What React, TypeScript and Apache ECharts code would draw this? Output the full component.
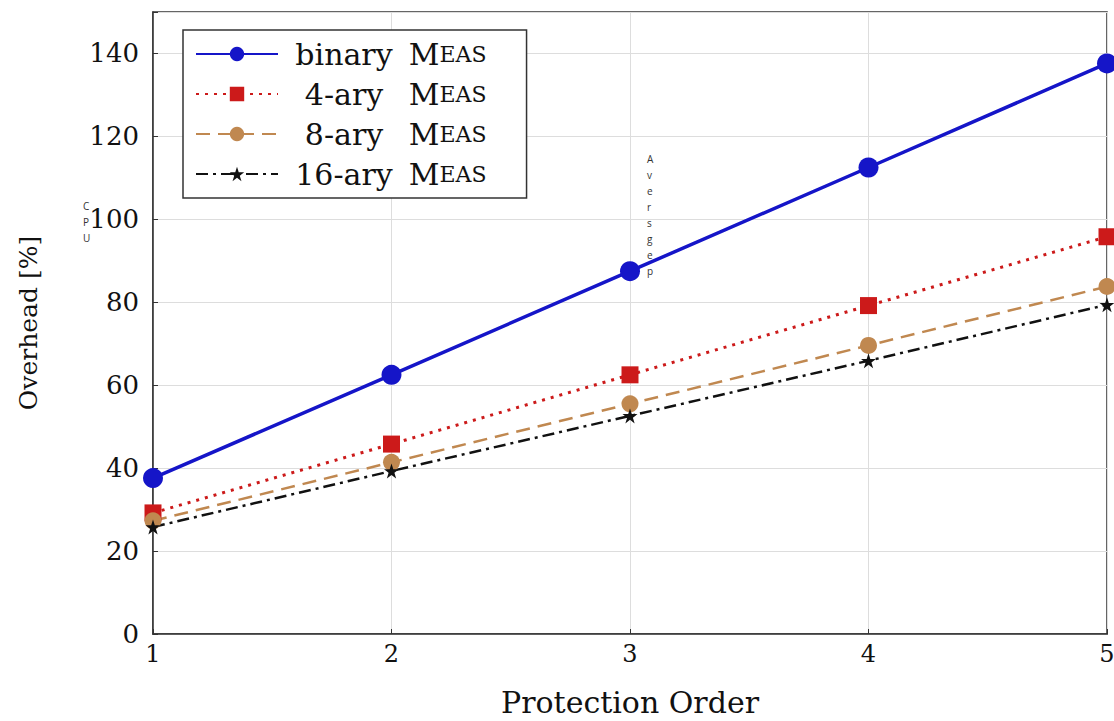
import React, { useEffect, useRef } from "react";
import * as echarts from "echarts";

const orders = [1, 2, 3, 4, 5];
const binaryMeas = [37.6, 62.5, 87.5, 112.5, 137.6];
const ary4Meas = [29.2, 45.8, 62.5, 79.2, 95.8];
const ary8Meas = [27.3, 41.4, 55.5, 69.6, 83.8];
const ary16Meas = [25.8, 39.3, 52.6, 65.9, 79.4];
const seriesNames = ["binary", "4-ary", "8-ary", "16-ary"];
const yTicks = [0, 20, 40, 60, 80, 100, 120, 140];
const strayA = ["C", "P", "U"];
const strayB = ["A", "v", "e", "r", "s", "g", "e", "p"];

const STAR = "path://M50,0 L61.8,35.4 L99,35.4 L69,57.3 L80.3,92.7 L50,70.8 L19.7,92.7 L31,57.3 L1,35.4 L38.2,35.4 Z";
const SERIF = "'DejaVu Serif', 'Liberation Serif', serif";

function pairs(vals: number[]) {
  return orders.map((o, i) => [o, vals[i]]);
}

export default function App() {
  const ref = useRef<HTMLDivElement>(null);
  useEffect(() => {
    if (!ref.current) return;
    const chart = echarts.init(ref.current, undefined, { renderer: "svg" });
    const strayTexts: any[] = [];
    strayA.forEach((c, i) =>
      strayTexts.push({ type: "text", left: 83, top: 201 + i * 16, style: { text: c, fill: "#333", fontSize: 10, fontFamily: "'Open Sans', sans-serif" }, z: 100 })
    );
    strayB.forEach((c, i) =>
      strayTexts.push({ type: "text", left: 647, top: 154 + i * 16, style: { text: c, fill: "#333", fontSize: 10, fontFamily: "'Open Sans', sans-serif" }, z: 100 })
    );
    const names = seriesNames.map((n) => n + " MEAS");
    chart.setOption({
      animation: false,
      backgroundColor: "#fff",
      grid: {
        left: 153, right: 7, top: 12, bottom: 87,
        outerBoundsMode: "none",
        containLabel: false,
        show: true, borderColor: "#333", borderWidth: 1.5,
      },
      legend: {
        orient: "vertical",
        left: 183,
        top: 30,
        itemWidth: 82,
        itemHeight: 18,
        itemGap: 10,
        padding: [9, 40, 9, 12],
        backgroundColor: "#fff",
        borderColor: "#333",
        borderWidth: 1.5,
        borderRadius: 0,
        data: names,
        formatter: (name: string) => {
          const p = name.replace(" MEAS", "");
          return `{p|${p}} {m|M}{s|EAS}`;
        },
        textStyle: {
          color: "#111",
          fontFamily: SERIF,
          rich: {
            p: { fontFamily: SERIF, fontSize: 30, width: 122, align: "right", color: "#111" },
            m: { fontFamily: SERIF, fontSize: 30, color: "#111" },
            s: { fontFamily: SERIF, fontSize: 22, color: "#111" },
          },
        },
      },
      xAxis: {
        type: "value",
        min: 1,
        max: 5,
        interval: 1,
        name: "Protection Order",
        nameLocation: "middle",
        nameGap: 53,
        nameTextStyle: { fontFamily: SERIF, fontSize: 30, color: "#111" },
        axisLine: { lineStyle: { color: "#333", width: 1.5 } },
        axisTick: { inside: true, length: 5, lineStyle: { color: "#333" } },
        axisLabel: { fontFamily: SERIF, fontSize: 24, color: "#111", margin: 8 },
        splitLine: { show: true, lineStyle: { color: "#ddd", width: 1 } },
      },
      yAxis: {
        type: "value",
        min: 0,
        max: 150,
        interval: 20,
        name: "Overhead [%]",
        nameLocation: "middle",
        nameGap: 112,
        nameTextStyle: { fontFamily: SERIF, fontSize: 25, color: "#111" },
        axisLine: { show: true, lineStyle: { color: "#333", width: 1.5 } },
        axisTick: { show: true, inside: true, length: 5, lineStyle: { color: "#333" } },
        axisLabel: {
          fontFamily: SERIF,
          fontSize: 26,
          color: "#111",
          margin: 14,
          formatter: (v: number) => (yTicks.includes(v) ? String(v) : ""),
        },
        splitLine: { show: true, lineStyle: { color: "#ddd", width: 1 } },
      },
      series: [
        {
          name: names[0], type: "line", data: pairs(binaryMeas),
          symbol: "circle", symbolSize: 20,
          lineStyle: { color: "#1515c8", width: 3.5, type: "solid" },
          itemStyle: { color: "#1515c8" },
        },
        {
          name: names[1], type: "line", data: pairs(ary4Meas),
          symbol: "rect", symbolSize: 17,
          lineStyle: { color: "#cc1a1a", width: 3, type: [3, 6] },
          itemStyle: { color: "#cc1a1a" },
        },
        {
          name: names[2], type: "line", data: pairs(ary8Meas),
          symbol: "circle", symbolSize: 17,
          lineStyle: { color: "#c08850", width: 2.5, type: [14, 8] },
          itemStyle: { color: "#c08850" },
        },
        {
          name: names[3], type: "line", data: pairs(ary16Meas),
          symbol: STAR, symbolSize: 15,
          lineStyle: { color: "#111", width: 2.5, type: [12, 5, 3, 5] },
          itemStyle: { color: "#111" },
        },
      ],
      graphic: strayTexts,
    });
    return () => chart.dispose();
  }, []);
  return <div ref={ref} style={{ width: 1114, height: 721, position: "absolute", left: 0, top: 0 }} />;
}
